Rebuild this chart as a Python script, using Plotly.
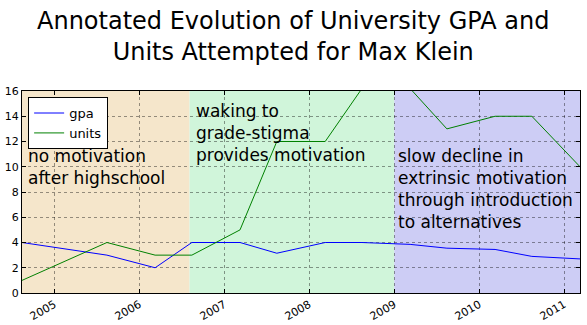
import plotly.graph_objects as go

dates = ["2004-08-15", "2005-08-15", "2006-03-10", "2006-08-15", "2007-03-10",
         "2007-08-15", "2008-03-10", "2008-08-15", "2009-03-10", "2009-08-15",
         "2010-03-10", "2010-08-15", "2011-03-10"]
gpa = [4.0, 3.0, 2.0, 4.0, 4.0, 3.15, 4.0, 4.0, 3.85, 3.55, 3.45, 2.9, 2.7]
units = [1, 4, 3, 3, 5, 12, 12, 16.2, 16.2, 13, 14, 14, 10]

periods = [
    ("2004-08-15", "2006-08-05", "#F5E6CB", "2004-09-03", 11.8, "no motivation<br>after highschool"),
    ("2006-08-05", "2009-01-01", "#D0F5DA", "2006-08-22", 15.35, "waking to<br>grade-stigma<br>provides motivation"),
    ("2009-01-01", "2011-03-10", "#CDCDF5", "2009-01-10", 11.8, "slow decline in<br>extrinsic motivation<br>through introduction<br>to alternatives"),
]

title_text = "Annotated Evolution of University GPA and<br>Units Attempted for Max Klein"

fig = go.Figure()
fig.add_trace(go.Scatter(x=dates, y=gpa, mode="lines", name="gpa",
                         line=dict(color="#0000FF", width=1)))
fig.add_trace(go.Scatter(x=dates, y=units, mode="lines", name="units",
                         line=dict(color="#008000", width=1)))

for x0, x1, col, tx, ty, txt in periods:
    fig.add_shape(type="rect", xref="x", yref="y", x0=x0, x1=x1, y0=0, y1=16,
                  fillcolor=col, line=dict(width=0), layer="below")
    fig.add_annotation(x=tx, y=ty, xref="x", yref="y", text=txt, showarrow=False,
                       xanchor="left", yanchor="top", align="left",
                       font=dict(family="DejaVu Sans", size=17, color="black"))

fig.add_annotation(x=0.485, y=1.425, xref="paper", yref="paper", text=title_text,
                   showarrow=False, xanchor="center", yanchor="top", align="center",
                   font=dict(family="DejaVu Sans", size=24, color="black"))

fig.update_layout(
    width=587, height=325,
    margin=dict(l=22, r=7, t=91, b=32),
    paper_bgcolor="white", plot_bgcolor="white",
    font=dict(family="DejaVu Sans", color="black"),
    legend=dict(x=0.011, y=0.97, xanchor="left", yanchor="top",
                bgcolor="white", bordercolor="black", borderwidth=1,
                font=dict(size=13), itemwidth=30, tracegroupgap=0),
    showlegend=True,
)
fig.update_xaxes(type="date", range=["2004-08-15", "2011-03-10"], automargin=False,
                 tick0="2005-01-01", dtick="M12", tickformat="%Y", tickangle=-30,
                 showline=True, linecolor="black", linewidth=1, mirror="ticks",
                 ticks="inside", ticklen=4, tickcolor="black",
                 showgrid=True, gridcolor="rgba(0,0,0,0.4)", griddash="dot", gridwidth=1,
                 tickfont=dict(size=11), zeroline=False)
fig.update_yaxes(range=[0, 16], dtick=2, automargin=False,
                 showline=True, linecolor="black", linewidth=1, mirror="ticks",
                 ticks="inside", ticklen=4, tickcolor="black",
                 showgrid=True, gridcolor="rgba(0,0,0,0.4)", griddash="dot", gridwidth=1,
                 tickfont=dict(size=11), zeroline=False)

fig.write_html("out.html")
